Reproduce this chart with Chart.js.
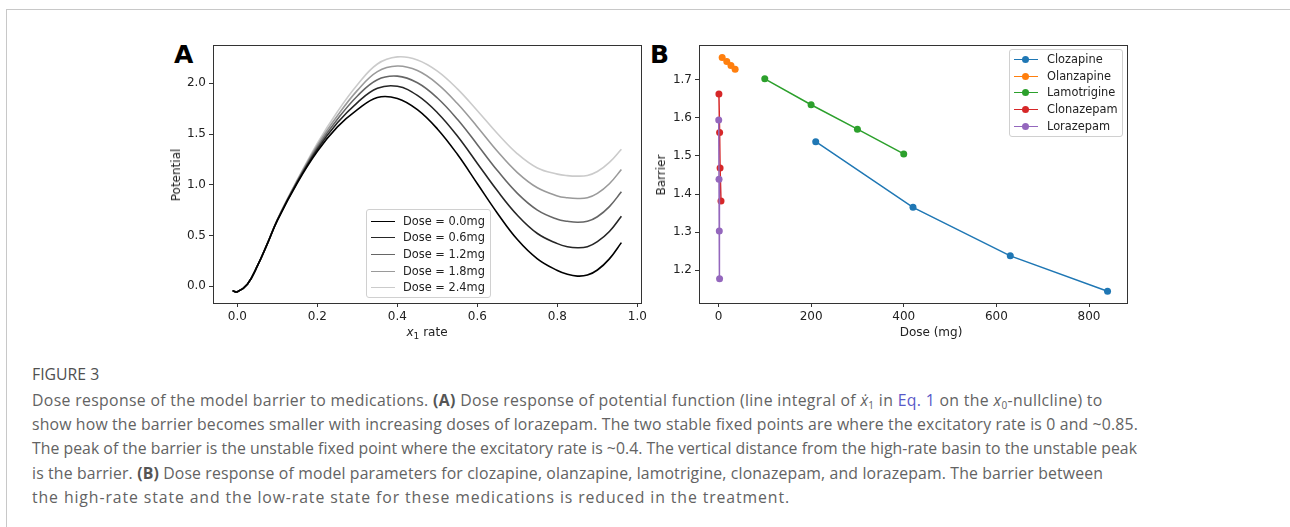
<!DOCTYPE html>
<html>
<head>
<meta charset="utf-8">
<script src="https://cdn.jsdelivr.net/npm/chart.js@4.4.0/dist/chart.umd.min.js"></script>
<style>
  body { margin: 0; background: #fff; width: 1290px; height: 527px; overflow: hidden; position: relative; font-family: "DejaVu Sans", sans-serif; }
  #frame { position: absolute; left: 6px; top: 9px; width: 1400px; height: 600px; border: 1px solid #c8c8c8; }
  canvas { position: absolute; }
  .lbl { position: absolute; font-size: 12px; color: #222; white-space: nowrap; }
  .panel { position: absolute; font-size: 25px; font-weight: bold; color: #000; }
  .legend { position: absolute; border: 1px solid #d0d0d0; border-radius: 3px; background: rgba(255,255,255,0.85); font-size: 11.4px; color: #222; }
  .legend .row { position: absolute; left: 0; height: 16.7px; line-height: 16.7px; white-space: nowrap; }
  .legend .swatch { position: absolute; top: 8px; width: 24px; height: 0; border-top: 1.6px solid; }
  .legend .dot { position: absolute; top: 5px; width: 7px; height: 7px; border-radius: 50%; }
  .cap { position: absolute; left: 32px; font-family: "Open Sans", sans-serif; color: #636363; font-size: 15.8px; line-height: 24px; height: 24px; white-space: nowrap; }
  .cap.head { color: #505050; }
  .cap b { font-weight: bold; color: #555; }
  .cap .eq { color: #5959c8; }
  .cap sub { font-size: 10px; line-height: 0; vertical-align: -3px; }
</style>
</head>
<body>
<div id="frame"></div>

<div class="panel" style="left:174px; top:40px;">A</div>
<div class="panel" style="left:650px; top:40px;">B</div>

<canvas id="chartA" width="500" height="320" style="left:150px; top:35px;"></canvas>
<canvas id="chartB" width="500" height="320" style="left:640px; top:35px;"></canvas>

<div class="lbl" style="left:176px; top:175px; transform: translate(-50%,-50%) rotate(-90deg);">Potential</div>
<div class="lbl" style="left:427px; top:332px; transform: translate(-50%,-50%);"><i>x</i><sub style="font-size:9px;line-height:0;">1</sub> rate</div>
<div class="lbl" style="left:661px; top:175px; transform: translate(-50%,-50%) rotate(-90deg);">Barrier</div>
<div class="lbl" style="left:931px; top:332px; transform: translate(-50%,-50%);">Dose (mg)</div>

<div id="legendA" class="legend" style="left:366px; top:209px; width:123px; height:87px;"></div>
<div id="legendB" class="legend" style="left:1009px; top:49px; width:112px; height:86px;"></div>

<div class="cap head" style="top:362px;">FIGURE 3</div>
<div class="cap line" data-right="1103" style="top:388px;">Dose response of the model barrier to medications. <b>(A)</b> Dose response of potential function (line integral of <i>x&#775;</i><sub>1</sub> in <span class="eq">Eq. 1</span> on the <i>x</i><sub>0</sub>-nullcline) to</div>
<div class="cap line" data-right="1138" style="top:412.2px;">show how the barrier becomes smaller with increasing doses of lorazepam. The two stable fixed points are where the excitatory rate is 0 and ~0.85.</div>
<div class="cap line" data-right="1137" style="top:436.4px;">The peak of the barrier is the unstable fixed point where the excitatory rate is ~0.4. The vertical distance from the high-rate basin to the unstable peak</div>
<div class="cap line" data-right="1103" style="top:460.6px;">is the barrier. <b>(B)</b> Dose response of model parameters for clozapine, olanzapine, lamotrigine, clonazepam, and lorazepam. The barrier between</div>
<div class="cap line" data-right="790" style="top:484.8px;">the high-rate state and the low-rate state for these medications is reduced in the treatment.</div>

<script>
// ---- panel A: potential vs x1 rate ----
const xRate = [-0.012, 0, 0.025, 0.05, 0.075, 0.1, 0.15, 0.2, 0.25, 0.3, 0.35, 0.4, 0.45, 0.5, 0.55, 0.6, 0.65, 0.7, 0.75, 0.8, 0.825, 0.85, 0.875, 0.9, 0.93, 0.96];
const dose00 = [-0.045, -0.055, 0.02, 0.2, 0.42, 0.65, 1.02, 1.33, 1.57, 1.74, 1.86, 1.85, 1.74, 1.55, 1.30, 1.01, 0.72, 0.46, 0.27, 0.155, 0.118, 0.10, 0.11, 0.16, 0.27, 0.43];
const dose06 = [-0.045, -0.055, 0.02, 0.2, 0.42, 0.652, 1.028, 1.35, 1.61, 1.81, 1.95, 1.97, 1.88, 1.71, 1.48, 1.21, 0.94, 0.70, 0.52, 0.42, 0.39, 0.38, 0.39, 0.44, 0.54, 0.69];
const dose12 = [-0.045, -0.055, 0.02, 0.2, 0.42, 0.655, 1.035, 1.37, 1.645, 1.875, 2.035, 2.07, 2.005, 1.855, 1.645, 1.395, 1.14, 0.915, 0.75, 0.66, 0.64, 0.63, 0.64, 0.685, 0.785, 0.93];
const dose18 = [-0.045, -0.055, 0.02, 0.2, 0.42, 0.658, 1.045, 1.39, 1.68, 1.93, 2.115, 2.17, 2.125, 1.995, 1.80, 1.57, 1.33, 1.12, 0.97, 0.89, 0.872, 0.865, 0.872, 0.915, 1.01, 1.15];
const dose24 = [-0.045, -0.055, 0.02, 0.2, 0.42, 0.66, 1.05, 1.41, 1.72, 1.985, 2.19, 2.26, 2.23, 2.12, 1.945, 1.73, 1.505, 1.305, 1.165, 1.105, 1.09, 1.085, 1.092, 1.13, 1.22, 1.35];
const doseLabels = ["Dose = 0.0mg", "Dose = 0.6mg", "Dose = 1.2mg", "Dose = 1.8mg", "Dose = 2.4mg"];
const doseColors = ["#000000", "#262626", "#666666", "#9a9a9a", "#cbcbcb"];
const xTicksA = [0, 0.2, 0.4, 0.6, 0.8, 1.0];
const yTicksA = [0, 0.5, 1.0, 1.5, 2.0];

// ---- panel B: barrier vs dose ----
const drugNames = ["Clozapine", "Olanzapine", "Lamotrigine", "Clonazepam", "Lorazepam"];
const drugColors = ["#1f77b4", "#ff7f0e", "#2ca02c", "#d62728", "#9467bd"];
const clozapineDose = [210, 420, 630, 840];
const clozapineBarrier = [1.537, 1.365, 1.238, 1.145];
const olanzapineDose = [8, 18, 27, 36];
const olanzapineBarrier = [1.758, 1.747, 1.737, 1.727];
const lamotrigineDose = [100, 200, 300, 400];
const lamotrigineBarrier = [1.702, 1.634, 1.570, 1.505];
const clonazepamDose = [1, 2.5, 3.5, 5.5];
const clonazepamBarrier = [1.662, 1.561, 1.468, 1.382];
const lorazepamDose = [0.6, 1.2, 1.8, 2.4];
const lorazepamBarrier = [1.594, 1.439, 1.303, 1.178];
const xTicksB = [0, 200, 400, 600, 800];
const yTicksB = [1.2, 1.3, 1.4, 1.5, 1.6, 1.7];

function pts(xs, ys) {
  return xs.map((x, i) => ({x: x, y: ys[i]}));
}

// spines on all four sides, like matplotlib
const boxPlugin = {
  id: 'box',
  afterDraw(chart) {
    const a = chart.chartArea, ctx = chart.ctx;
    ctx.save();
    ctx.strokeStyle = '#333';
    ctx.lineWidth = 1;
    ctx.strokeRect(Math.round(a.left) + 0.5, Math.round(a.top) + 0.5, Math.round(a.right - a.left), Math.round(a.bottom - a.top));
    ctx.restore();
  }
};

function axis(min, max, ticks, fmt, fitSize, horizontal) {
  return {
    type: 'linear',
    min: min,
    max: max,
    afterBuildTicks: s => { s.ticks = ticks.map(v => ({value: v})); },
    afterFit: s => { if (horizontal) s.height = fitSize; else s.width = fitSize; },
    ticks: { color: '#222', font: {family: 'DejaVu Sans', size: 12}, padding: 3, maxRotation: 0, autoSkip: false, callback: fmt },
    grid: { drawOnChartArea: false, drawTicks: true, tickLength: 4, color: '#333' },
    border: { color: '#333' }
  };
}

const dosesA = [dose00, dose06, dose12, dose18, dose24];
new Chart(document.getElementById('chartA'), {
  type: 'line',
  data: {
    datasets: dosesA.map((d, i) => ({
      label: doseLabels[i],
      data: pts(xRate, d),
      borderColor: doseColors[i],
      borderWidth: 1.6,
      pointRadius: 0,
      tension: 0.4,
      fill: false
    }))
  },
  options: {
    responsive: false,
    animation: false,
    devicePixelRatio: 1,
    layout: { padding: { top: 8, right: 8, left: 0, bottom: 0 } },
    plugins: { legend: { display: false }, tooltip: { enabled: false } },
    scales: {
      x: axis(-0.061, 1.009, xTicksA, v => v.toFixed(1), 52, true),
      y: axis(-0.165, 2.375, yTicksA, v => v.toFixed(1), 63, false)
    }
  },
  plugins: [boxPlugin]
});

const drugs = [
  pts(clozapineDose, clozapineBarrier),
  pts(olanzapineDose, olanzapineBarrier),
  pts(lamotrigineDose, lamotrigineBarrier),
  pts(clonazepamDose, clonazepamBarrier),
  pts(lorazepamDose, lorazepamBarrier)
];
new Chart(document.getElementById('chartB'), {
  type: 'line',
  data: {
    datasets: drugs.map((d, i) => ({
      label: drugNames[i],
      data: d,
      borderColor: drugColors[i],
      backgroundColor: drugColors[i],
      borderWidth: 1.5,
      pointRadius: 3.5,
      pointBorderWidth: 0,
      tension: 0,
      fill: false,
      order: 5 - i
    }))
  },
  options: {
    responsive: false,
    animation: false,
    devicePixelRatio: 1,
    layout: { padding: { top: 8, right: 13, left: 0, bottom: 0 } },
    plugins: { legend: { display: false }, tooltip: { enabled: false } },
    scales: {
      x: axis(-42, 882, xTicksB, v => String(v), 52, true),
      y: axis(1.1144, 1.79, yTicksB, v => v.toFixed(1), 59, false)
    }
  },
  plugins: [boxPlugin]
});

// legends drawn as html boxes inside the plot areas
function buildLegend(id, names, colors, withDot, textLeft) {
  const box = document.getElementById(id);
  names.forEach((n, i) => {
    const row = document.createElement('div');
    row.className = 'row';
    row.style.top = (id === 'legendA' ? 2.6 : 0.9) + i * 16.7 + 'px';
    row.style.width = '100%';
    let html = '<span class="swatch" style="left:3.5px;border-color:' + colors[i] + '"></span>';
    if (withDot) html += '<span class="dot" style="left:12px;background:' + colors[i] + '"></span>';
    html += '<span style="position:absolute;left:' + textLeft + 'px">' + n + '</span>';
    row.innerHTML = html;
    box.appendChild(row);
  });
}
buildLegend('legendA', doseLabels, doseColors, false, 36);
buildLegend('legendB', drugNames, drugColors, true, 37);

// stretch each caption line to the width it has in the figure
document.querySelectorAll('.cap.line').forEach(el => {
  const target = +el.dataset.right - 32;
  const w = el.getBoundingClientRect().width;
  const n = el.textContent.length;
  el.style.letterSpacing = ((target - w) / n) + 'px';
});
</script>
</body>
</html>
